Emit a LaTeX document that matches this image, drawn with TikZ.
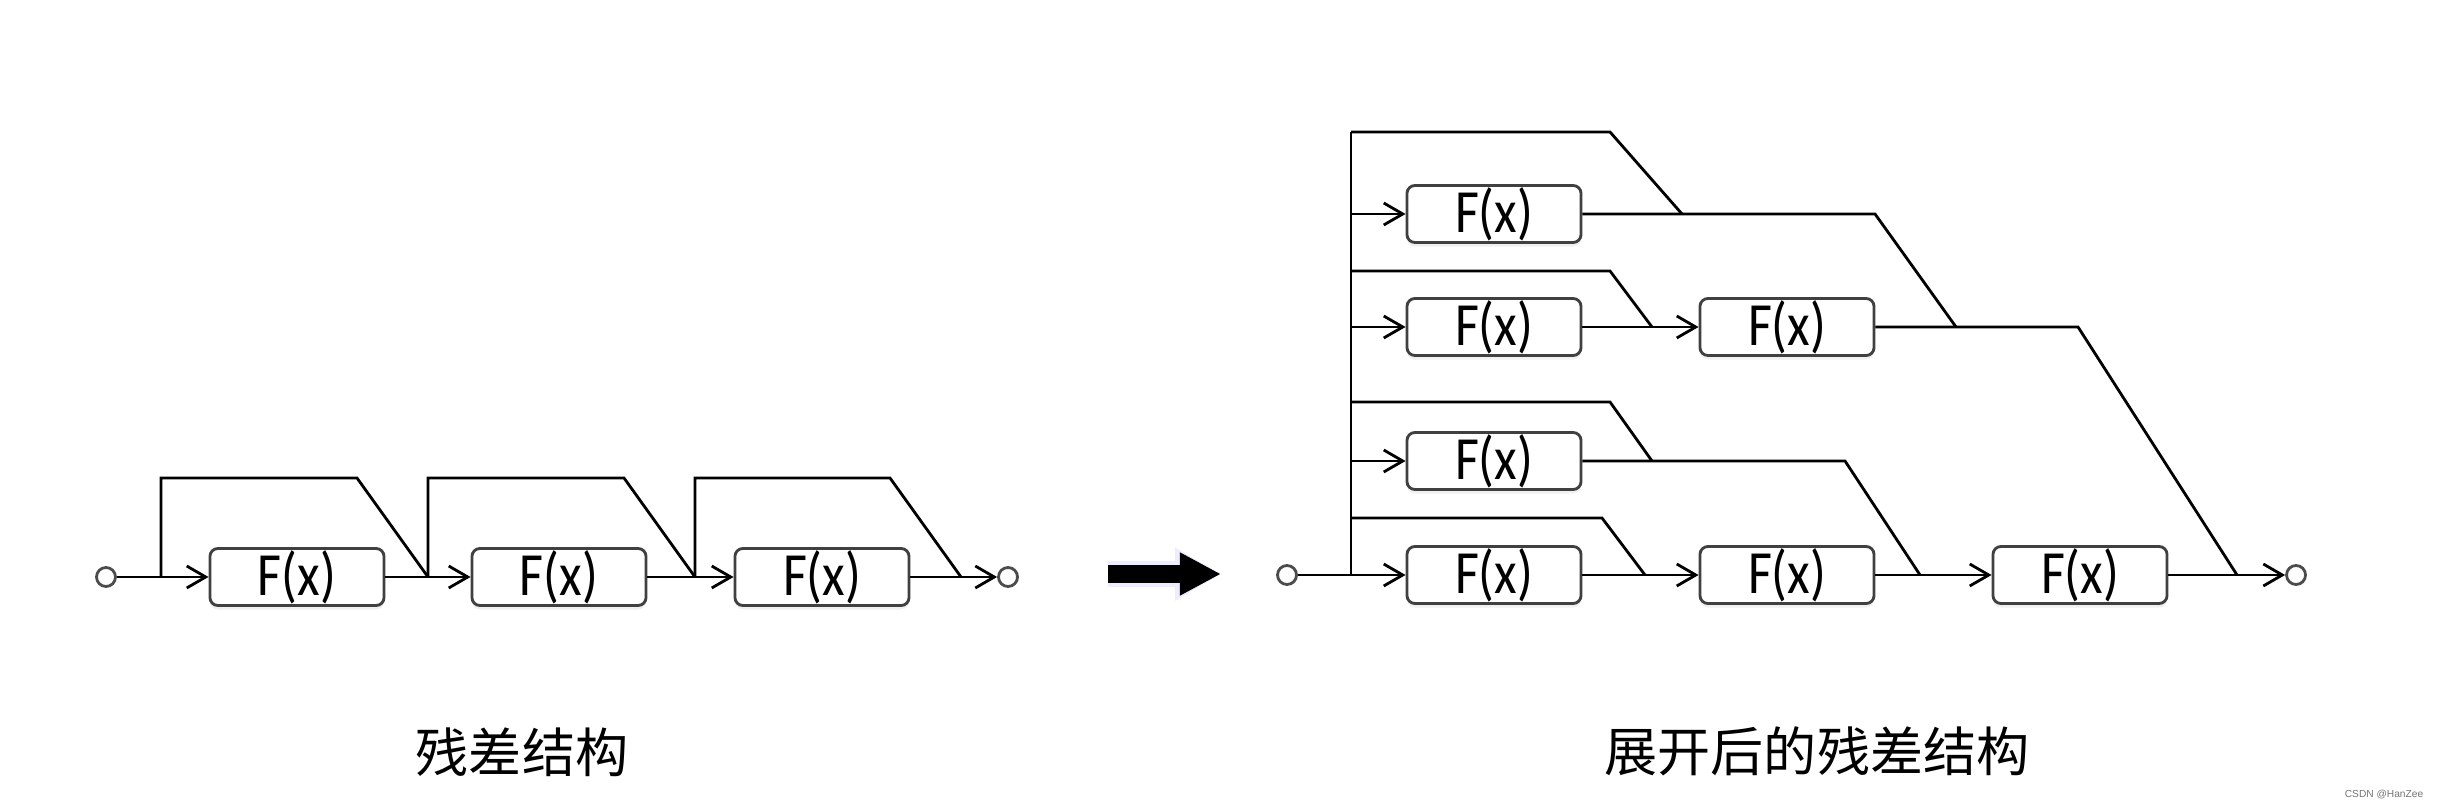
\documentclass[tikz,border=0pt]{standalone}
\usepackage{fontspec}
\setmainfont{Carlito}
\newfontfamily\cjk{Noto Sans CJK SC}
\newfontfamily\wmfont{Liberation Sans}
\usetikzlibrary{arrows.meta,shadows}
\newcommand{\fx}{\scalebox{1}[1.18]{F(x)}}
\tikzset{
    >={Straight Barb[length=0.19cm,width=0.22cm]},
    every picture/.style={line width=0.8pt},
    fbox/.style={draw=black!75,rounded corners=0.08cm,fill=white,minimum width=1.74cm,
        minimum height=0.57cm,inner sep=0pt,font=\fontsize{14.8pt}{16pt}\selectfont,
        drop shadow={shadow xshift=0pt,shadow yshift=-0.04cm,opacity=0.12}},
    port/.style={circle,draw=black!70,fill=white,minimum size=0.19cm,inner sep=0pt},
    caption/.style={font=\cjk\fontsize{15.1pt}{18pt}\selectfont}
}

\begin{document}
\begin{tikzpicture}[x=0.01cm,y=-0.01cm]
    \useasboundingbox (0,0) rectangle (2440,810);

    % residual chain
    \node[port] (lin) at (106,577) {};
    \node[fbox] (l1) at (297,577) {\fx};
    \node[fbox] (l2) at (559,577) {\fx};
    \node[fbox] (l3) at (822,577) {\fx};
    \node[port] (lout) at (1008,577) {};
    \coordinate (ls1) at (161,577);
    \coordinate (ls2) at (428,577);
    \coordinate (ls3) at (695,577);
    \coordinate (lj3) at (961,577);

    \draw (lin) -- (ls1);
    \draw[->] (ls1) -- (l1);
    \draw (l1) -- (ls2);
    \draw[->] (ls2) -- (l2);
    \draw (l2) -- (ls3);
    \draw[->] (ls3) -- (l3);
    \draw (l3) -- (lj3);
    \draw[->] (lj3) -- (lout);
    \draw (ls2) -- ++(-71,-99) -| (ls1);
    \draw (ls3) -- ++(-71,-99) -| (ls2);
    \draw (lj3) -- ++(-71,-99) -| (ls3);

    % big arrow
    \coordinate (ma) at (1108,574);
    \coordinate (mb) at (1221,574);
    \draw[blue!7,line width=0.25cm,-{Triangle[length=0.46cm,width=0.5cm]}] (ma) -- (mb);
    \draw[line width=0.17cm,-{Triangle[length=0.41cm,width=0.4cm]}] (ma) -- (mb);

    % unrolled view
    \node[port] (rin) at (1287,575) {};
    \coordinate (rs) at (1351,575);
    \coordinate (rtop) at (1351,132);
    \coordinate (ta) at (1351,214);
    \coordinate (tb) at (1351,327);
    \coordinate (tc) at (1351,461);
    \coordinate (kb) at (1351,271);
    \coordinate (kc) at (1351,402);
    \coordinate (kd) at (1351,518);
    \node[fbox] (a1) at (1494,214) {\fx};
    \node[fbox] (b1) at (1494,327) {\fx};
    \node[fbox] (b2) at (1787,327) {\fx};
    \node[fbox] (c1) at (1494,461) {\fx};
    \node[fbox] (d1) at (1494,575) {\fx};
    \node[fbox] (d2) at (1787,575) {\fx};
    \node[fbox] (d3) at (2080,575) {\fx};
    \node[port] (rout) at (2296,575) {};
    \coordinate (ja) at (1682,214);
    \coordinate (jb) at (1652,327);
    \coordinate (jc) at (1652,461);
    \coordinate (jd) at (1645,575);
    \coordinate (je) at (1956,327);
    \coordinate (jf) at (1920,575);
    \coordinate (jg) at (2237,575);

    \draw (rin) -- (rs) -- (rtop);
    \draw[->] (ta) -- (a1);
    \draw[->] (tb) -- (b1);
    \draw[->] (tc) -- (c1);
    \draw[->] (rs) -- (d1);
    \draw (ja) -- ++(-72,-82) -- (rtop);
    \draw (jb) -- ++(-42,-56) -- (kb);
    \draw (jc) -- ++(-42,-59) -- (kc);
    \draw (jd) -- ++(-43,-57) -- (kd);
    \draw (je) -- ++(-81,-113) -- (a1);
    \draw (b1) -- (jb);
    \draw[->] (jb) -- (b2);
    \draw (jg) -- ++(-159,-248) -- (b2);
    \draw (jf) -- ++(-75,-114) -- (c1);
    \draw (d1) -- (jd);
    \draw[->] (jd) -- (d2);
    \draw (d2) -- (jf);
    \draw[->] (jf) -- (d3);
    \draw (d3) -- (jg);
    \draw[->] (jg) -- (rout);

    \node[caption] (cap1) at (522,752) {残差结构};
    \node[caption] (cap2) at (1817,751) {展开后的残差结构};
    \node[font=\wmfont\fontsize{2.9pt}{3pt}\selectfont,text=black!55] (wm) at (2384,795) {CSDN @HanZee};
\end{tikzpicture}
\end{document}
